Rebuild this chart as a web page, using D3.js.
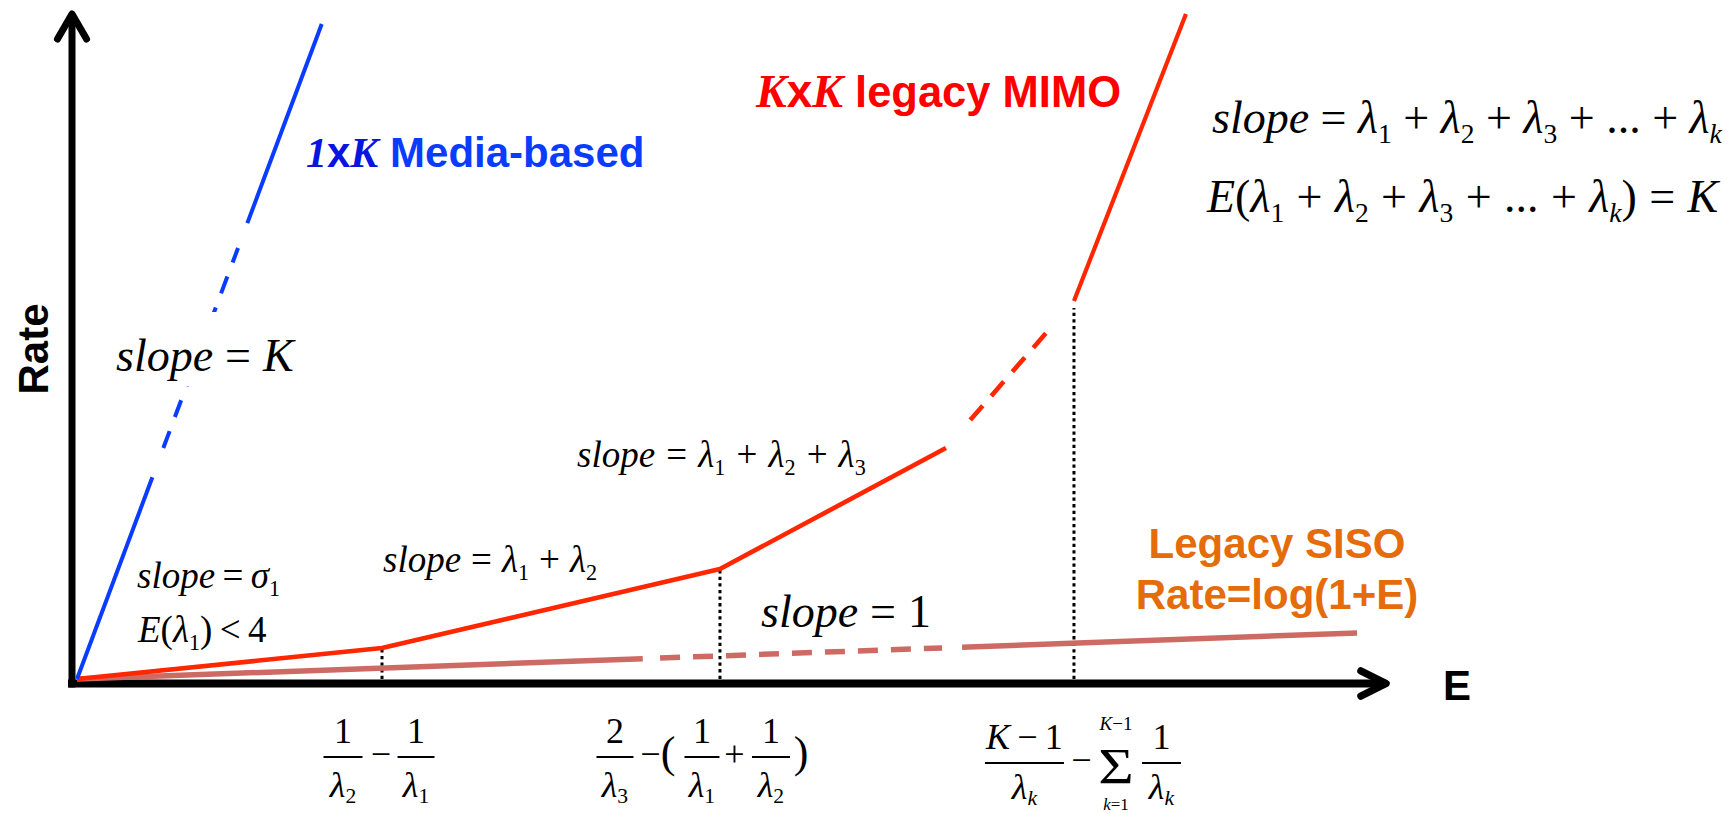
<!DOCTYPE html>
<html>
<head>
<meta charset="utf-8">
<script src="https://cdn.jsdelivr.net/npm/d3@7"></script>
<style>
  html, body { margin: 0; padding: 0; background: #fff; }
  svg { display: block; }
</style>
</head>
<body>
<svg id="chart" width="1733" height="813"></svg>
<script>
// Achievable rate versus energy E for three transmission schemes.
// E and Rate are in arbitrary units (0..10 on both axes).

// KxK legacy MIMO: piecewise-linear, slope grows at each breakpoint
const mimoE    = [0, 2.323, 4.897, 6.618, 7.593, 8.446];
const mimoRate = [0, 0.463, 1.644, 3.453, 5.650, 9.940];
// 1xK media-based: a single steep line
const mediaE    = [0, 1.864];
const mediaRate = [0, 9.791];
// Legacy SISO
const sisoE    = [0, 9.749];
const sisoRate = [0, 0.688];
// MIMO vertices that get a dotted drop line and a label under the E axis
const breakIndex = [1, 2, 4];

// Text of the annotations (mini markup: _x = subscript, letters italic)
const seriesNames = {
  media: ["1", "x", "K", " Media-based"],
  mimo:  ["K", "x", "K", " legacy MIMO"],
  siso:  ["Legacy SISO", "Rate=log(1+E)"]
};
const slopeNotes = {
  mediaSlope: "slope = K",
  firstSlope: "slope = σ_1",
  firstMean:  "E(λ_1) < 4",
  second:     "slope = λ_1 + λ_2",
  third:      "slope = λ_1 + λ_2 + λ_3",
  siso:       "slope = 1",
  general:    "slope = λ_1 + λ_2 + λ_3 + ... + λ_k",
  mean:       "E(λ_1 + λ_2 + λ_3 + ... + λ_k) = K"
};

// ---------------------------------------------------------------------------
const SERIF = "'Liberation Serif','Times New Roman',Times,serif";
const SANS  = "'Liberation Sans',Arial,Helvetica,sans-serif";
const RED = "#ff2600", BLUE = "#0a3cff", SISO = "#cd6a64", ORANGE = "#e46c0a";

const svg = d3.select("#chart");
const x = d3.scaleLinear().domain([0, 10]).range([77, 1390]);
const y = d3.scaleLinear().domain([0, 10]).range([679, 10]);

// end points of the part [t0, t1] of segment i of a series
function seg(xs, ys, i, t0, t1) {
  const p = t => [x(xs[i] + (xs[i + 1] - xs[i]) * t), y(ys[i] + (ys[i + 1] - ys[i]) * t)];
  return [p(t0), p(t1)];
}
const line = d3.line();

function drawPiece(xs, ys, i, t0, t1, color, width, dash) {
  const p = svg.append("path")
    .attr("d", line(seg(xs, ys, i, t0, t1)))
    .attr("fill", "none").attr("stroke", color).attr("stroke-width", width)
    .attr("stroke-linecap", "butt");
  if (dash) p.attr("stroke-dasharray", dash);
  return p;
}

// small math typesetter: letters italic, digits/operators upright, _x subscript
function math(g, px, py, size, src, opt = {}) {
  const pad = opt.pad ?? 0.2;
  const t = g.append("text").attr("x", px).attr("y", py)
    .attr("font-family", SERIF).attr("font-size", size)
    .attr("fill", opt.fill || "#000")
    .attr("text-anchor", opt.anchor || "start");
  const subSize = size * 0.6, drop = size * (opt.drop ?? 0.22);
  let pending = 0, shifted = false;
  for (let k = 0; k < src.length; k++) {
    let c = src[k];
    if (c === " ") continue;
    let sub = false;
    if (c === "_") { sub = true; c = src[++k]; }
    const italic = /[A-Za-zλσ]/.test(c);
    const isOp = "=+−<".includes(c);
    const ts = t.append("tspan").text(c).attr("font-style", italic ? "italic" : "normal");
    const dx = pending + (isOp ? pad * size : 0);
    pending = isOp ? pad * size : 0;
    if (dx) ts.attr("dx", dx);
    if (sub) {
      ts.attr("font-size", subSize);
      if (!shifted) { ts.attr("dy", drop); shifted = true; }
    } else if (shifted) { ts.attr("dy", -drop); shifted = false; }
  }
  return t;
}

// fraction centred at cx with its bar at barY
function frac(g, cx, barY, num, den, size, barW, denGap = 40) {
  g.append("line").attr("x1", cx - barW / 2).attr("x2", cx + barW / 2)
    .attr("y1", barY).attr("y2", barY).attr("stroke", "#000").attr("stroke-width", 2);
  math(g, cx, barY - 14, size, num, { anchor: "middle" });
  math(g, cx, barY + denGap, size, den, { anchor: "middle", drop: 0.17 });
}
function op(g, cx, barY, size, ch) {
  g.append("text").attr("x", cx).attr("y", barY + size * 0.25)
    .attr("text-anchor", "middle").attr("font-family", SERIF).attr("font-size", size).text(ch);
}

// ---------------------------------------------------------------------------
// Axes: thick black arrows, no ticks
const axisX0 = x.range()[0] - 5, axisY0 = y.range()[0] + 4.5;
const axes = svg.append("g").attr("stroke", "#000").attr("fill", "none")
  .attr("stroke-linecap", "round").attr("stroke-linejoin", "round");
axes.append("line").attr("x1", axisX0).attr("x2", axisX0)
  .attr("y1", axisY0 + 4).attr("y2", 14).attr("stroke-width", 7).attr("stroke-linecap", "butt");
axes.append("polyline").attr("points", `${axisX0 - 14.5},39 ${axisX0},14 ${axisX0 + 14.5},39`)
  .attr("stroke-width", 7);
axes.append("line").attr("x1", axisX0 - 4).attr("x2", x.range()[1] - 4)
  .attr("y1", axisY0).attr("y2", axisY0).attr("stroke-width", 8).attr("stroke-linecap", "butt");
axes.append("polyline")
  .attr("points", `${x.range()[1] - 29},${axisY0 - 12.5} ${x.range()[1] - 4},${axisY0} ${x.range()[1] - 29},${axisY0 + 12.5}`)
  .attr("stroke-width", 7.5);

svg.append("text").attr("x", 1443).attr("y", 700)
  .attr("font-family", SANS).attr("font-weight", "bold").attr("font-size", 42).text("E");
svg.append("text").attr("transform", "translate(48,349) rotate(-90)")
  .attr("text-anchor", "middle")
  .attr("font-family", SANS).attr("font-weight", "bold").attr("font-size", 42).text("Rate");

// Dotted drop lines from the MIMO breakpoints
breakIndex.forEach(i => {
  svg.append("line")
    .attr("x1", x(mimoE[i])).attr("x2", x(mimoE[i]))
    .attr("y1", y(0)).attr("y2", y(mimoRate[i]) + (i === 4 ? 7 : 0))
    .attr("stroke", "#000").attr("stroke-width", 3).attr("stroke-dasharray", "3.3,3.3");
});

// Legacy SISO
drawPiece(sisoE, sisoRate, 0, 0, 0.442, SISO, 5.5);
drawPiece(sisoE, sisoRate, 0, 0.4555, 0.6758, SISO, 5.5, "20,13");
drawPiece(sisoE, sisoRate, 0, 0.6914, 1, SISO, 5.5);

// KxK legacy MIMO
svg.append("path")
  .attr("d", d3.line().x(i => x(mimoE[i])).y(i => y(mimoRate[i]))([0, 1, 2, 3]))
  .attr("fill", "none").attr("stroke", RED).attr("stroke-width", 4.6)
  .attr("stroke-linejoin", "round");
drawPiece(mimoE, mimoRate, 3, 0.19, 0.785, RED, 4.6, "19,13");
drawPiece(mimoE, mimoRate, 4, 0, 1, RED, 4.2);

// 1xK media-based
drawPiece(mediaE, mediaRate, 0, 0, 0.308, BLUE, 4);
drawPiece(mediaE, mediaRate, 0, 0.3527, 0.658, BLUE, 4, "18,15");
drawPiece(mediaE, mediaRate, 0, 0.696, 1, BLUE, 4);

// ---------------------------------------------------------------------------
// Series names
function seriesLabel(parts, px, py, symSize, textSize, colorA, colorB) {
  const t = svg.append("text").attr("x", px).attr("y", py).attr("xml:space", "preserve");
  t.append("tspan").text(parts[0]).attr("font-family", SERIF).attr("font-style", "italic")
    .attr("font-weight", "bold").attr("font-size", symSize).attr("fill", colorA);
  t.append("tspan").text(parts[1]).attr("font-family", SANS).attr("font-weight", "bold")
    .attr("font-size", symSize).attr("fill", colorA);
  t.append("tspan").text(parts[2]).attr("font-family", SERIF).attr("font-style", "italic")
    .attr("font-weight", "bold").attr("font-size", symSize).attr("fill", colorA);
  t.append("tspan").text(parts[3]).attr("font-family", SANS).attr("font-weight", "bold")
    .attr("font-size", textSize).attr("fill", colorB).style("white-space", "pre");
}
seriesLabel(seriesNames.media, 306, 167, 42, 42, "#0a14e0", BLUE);
seriesLabel(seriesNames.mimo, 756, 107, 46, 43.5, "#ff0000", "#ff0000");

const sisoLbl = svg.append("g").attr("font-family", SANS).attr("font-weight", "bold")
  .attr("font-size", 42).attr("fill", ORANGE).attr("text-anchor", "middle");
sisoLbl.append("text").attr("x", 1277).attr("y", 558).text(seriesNames.siso[0]);
sisoLbl.append("text").attr("x", 1277).attr("y", 609).text(seriesNames.siso[1]);

// Slope annotations
const notes = svg.append("g");
notes.append("rect").attr("x", 108).attr("y", 312).attr("width", 198).attr("height", 74).attr("fill", "#fff");
math(notes, 116, 371, 46, slopeNotes.mediaSlope, { pad: 0.26 });
math(notes, 137, 588, 37, slopeNotes.firstSlope);
math(notes, 138, 642, 37, slopeNotes.firstMean);
math(notes, 383, 572, 37, slopeNotes.second, { pad: 0.27 });
math(notes, 577, 467, 37, slopeNotes.third, { pad: 0.3 });
math(notes, 761, 627, 46, slopeNotes.siso, { pad: 0.26 });
math(notes, 1212, 133, 46, slopeNotes.general, { pad: 0.25 });
math(notes, 1207, 212, 46, slopeNotes.mean, { pad: 0.27 });

// Breakpoint labels under the E axis
const ticks = svg.append("g");
{
  const cx = x(mimoE[breakIndex[0]]), by = 757, s = 36;
  frac(ticks, cx - 39, by, "1", "λ_2", s, 39);
  op(ticks, cx - 1, by, s, "−");
  frac(ticks, cx + 34, by, "1", "λ_1", s, 37);
}
{
  const cx = x(mimoE[breakIndex[1]]), by = 757, s = 36;
  frac(ticks, cx - 105, by, "2", "λ_3", s, 37);
  op(ticks, cx - 69.5, by, s, "−");
  op(ticks, cx - 52, by - 1, 44, "(");
  frac(ticks, cx - 18, by, "1", "λ_1", s, 35);
  op(ticks, cx + 14.5, by, s, "+");
  frac(ticks, cx + 51, by, "1", "λ_2", s, 38);
  op(ticks, cx + 81, by - 1, 44, ")");
}
{
  const cx = x(mimoE[breakIndex[2]]), by = 763, s = 36;
  frac(ticks, cx - 49.5, by, "K − 1", "λ_k", s, 79, 36);
  op(ticks, cx + 7.5, by, s, "−");
  // summation sign (widened) with its upper and lower limits
  const sx = cx + 42;
  ticks.append("text").attr("transform", `translate(${sx},783) scale(1.22,1)`)
    .attr("text-anchor", "middle").attr("font-family", SERIF).attr("font-size", 50).text("Σ");
  const upper = ticks.append("text").attr("x", sx).attr("y", 730)
    .attr("text-anchor", "middle").attr("font-family", SERIF).attr("font-size", 19);
  upper.append("tspan").attr("font-style", "italic").text("K");
  upper.append("tspan").text("−1");
  const lower = ticks.append("text").attr("x", sx).attr("y", 809.5)
    .attr("text-anchor", "middle").attr("font-family", SERIF).attr("font-size", 17);
  lower.append("tspan").attr("font-style", "italic").text("k");
  lower.append("tspan").text("=1");
  frac(ticks, cx + 87.5, by, "1", "λ_k", s, 39, 36);
}
</script>
</body>
</html>
